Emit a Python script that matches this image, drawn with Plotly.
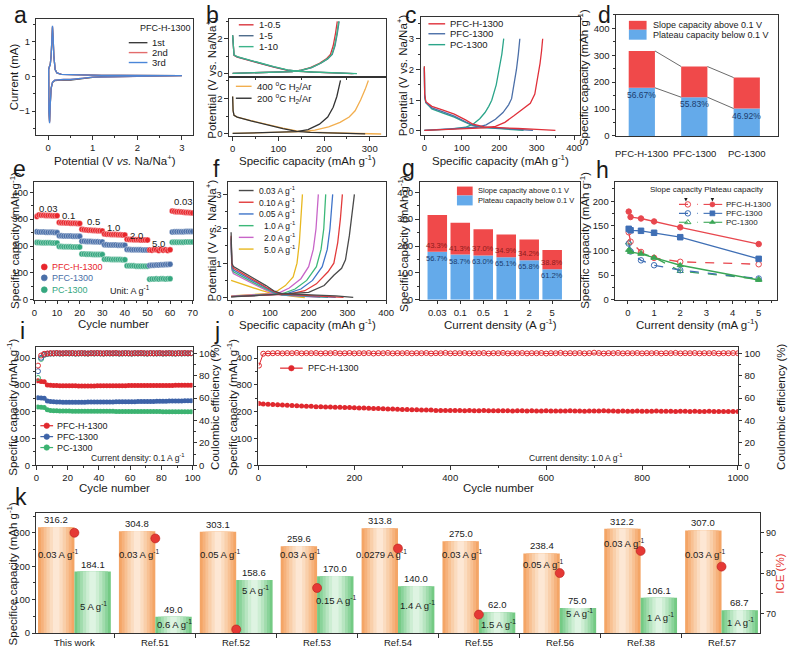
import plotly.graph_objects as go

W, H = 802, 653
FONT = "Liberation Sans, Arial, Helvetica, sans-serif"
INK = "#1a1a1a"
FRAME = "#333333"

# ======================= DATA =======================
# (a) CV of PFC-H-1300
cv_potential = [3.0, 2.5, 2.0, 1.5, 1.2, 1.0, 0.8, 0.65, 0.5, 0.35, 0.22, 0.15, 0.1, 0.07, 0.05, 0.035, 0.02, 0.01,
                0.015, 0.03, 0.05, 0.07, 0.085, 0.1, 0.115, 0.13, 0.16, 0.2, 0.3, 0.5, 0.8, 1.2, 1.6, 2.0, 2.5, 3.0]
cv_1st = [0.02, 0.015, 0.01, 0.0, -0.01, -0.03, -0.07, -0.1, -0.11, -0.1, -0.1, -0.12, -0.18, -0.35, -0.8, -1.3, -1.0, -0.2,
          0.2, 0.28, 0.35, 0.6, 1.0, 1.42, 1.1, 0.6, 0.2, 0.1, 0.06, 0.05, 0.04, 0.03, 0.03, 0.025, 0.02, 0.02]
cv_2nd = [0.02, 0.015, 0.01, 0.0, -0.01, -0.02, -0.05, -0.08, -0.09, -0.09, -0.09, -0.11, -0.17, -0.33, -0.78, -1.32, -1.02, -0.2,
          0.2, 0.27, 0.34, 0.58, 1.0, 1.44, 1.1, 0.6, 0.2, 0.1, 0.06, 0.05, 0.04, 0.03, 0.03, 0.025, 0.02, 0.02]
cv_3rd = [0.02, 0.015, 0.01, 0.0, -0.01, -0.02, -0.05, -0.08, -0.09, -0.09, -0.09, -0.11, -0.17, -0.34, -0.8, -1.35, -1.03, -0.2,
          0.2, 0.27, 0.34, 0.58, 1.0, 1.46, 1.12, 0.6, 0.2, 0.1, 0.06, 0.05, 0.04, 0.03, 0.03, 0.025, 0.02, 0.02]

# (b) GCD, top: mass ratios; bottom: H2/Ar temperatures
b_dis_cap_05 = [0, 1, 3, 10, 30, 60, 90, 120, 145, 175, 210, 240, 262]
b_dis_v_05 = [2.2, 1.4, 1.05, 0.95, 0.8, 0.58, 0.38, 0.2, 0.13, 0.09, 0.06, 0.04, 0.01]
b_ch_cap_05 = [0, 50, 100, 130, 150, 170, 190, 205, 214, 220, 225, 229]
b_ch_v_05 = [0.02, 0.05, 0.08, 0.12, 0.2, 0.35, 0.6, 0.85, 1.1, 1.6, 2.3, 3.0]
b_dis_cap_5 = [0, 1, 3, 10, 30, 60, 90, 120, 145, 175, 210, 240, 265]
b_dis_v_5 = [2.2, 1.4, 1.06, 0.96, 0.81, 0.59, 0.39, 0.21, 0.14, 0.09, 0.06, 0.04, 0.01]
b_ch_cap_5 = [0, 50, 100, 130, 152, 173, 193, 208, 218, 224, 229, 233]
b_ch_v_5 = [0.02, 0.05, 0.08, 0.12, 0.2, 0.35, 0.6, 0.85, 1.1, 1.6, 2.3, 3.0]
b_dis_cap_10 = [0, 1, 3, 10, 30, 60, 90, 120, 145, 175, 210, 245, 272]
b_dis_v_10 = [2.2, 1.4, 1.08, 0.98, 0.83, 0.6, 0.4, 0.22, 0.14, 0.1, 0.07, 0.05, 0.01]
b_ch_cap_10 = [0, 50, 100, 130, 151, 172, 192, 207, 217, 223, 228, 232]
b_ch_v_10 = [0.02, 0.05, 0.08, 0.12, 0.2, 0.35, 0.6, 0.85, 1.1, 1.6, 2.3, 3.0]
b_dis_cap_400 = [0, 1, 3, 10, 40, 80, 110, 140, 170, 210, 260, 300, 325]
b_dis_v_400 = [2.1, 1.3, 1.05, 0.95, 0.75, 0.5, 0.33, 0.17, 0.1, 0.07, 0.05, 0.03, 0.0]
b_ch_cap_400 = [0, 60, 120, 150, 180, 210, 235, 255, 268, 280, 290, 297]
b_ch_v_400 = [0.03, 0.06, 0.09, 0.13, 0.22, 0.4, 0.65, 0.95, 1.3, 1.9, 2.5, 3.0]
b_dis_cap_200 = [0, 1, 3, 10, 40, 80, 110, 140, 170, 210, 250, 290]
b_dis_v_200 = [2.1, 1.3, 1.05, 0.95, 0.73, 0.48, 0.3, 0.15, 0.09, 0.06, 0.04, 0.01]
b_ch_cap_200 = [0, 60, 110, 140, 165, 190, 208, 220, 228, 233, 236]
b_ch_v_200 = [0.03, 0.06, 0.09, 0.13, 0.25, 0.55, 0.95, 1.5, 2.1, 2.6, 3.0]

# (c) GCD of three samples
c_h_dis_cap = [0, 1, 4, 20, 50, 80, 110, 130, 160, 200, 250, 300, 350]
c_h_dis_v = [2.1, 1.2, 0.95, 0.8, 0.68, 0.55, 0.36, 0.22, 0.13, 0.1, 0.08, 0.05, 0.02]
c_h_ch_cap = [0, 100, 160, 190, 215, 240, 265, 283, 295, 303, 309, 313, 316]
c_h_ch_v = [0.02, 0.07, 0.1, 0.15, 0.28, 0.5, 0.72, 0.9, 1.2, 1.7, 2.2, 2.6, 3.0]
c_p_dis_cap = [0, 1, 4, 20, 50, 80, 110, 130, 160, 200, 250, 290]
c_p_dis_v = [2.05, 1.15, 0.93, 0.75, 0.62, 0.48, 0.3, 0.19, 0.12, 0.09, 0.06, 0.02]
c_p_ch_cap = [0, 90, 140, 165, 190, 210, 225, 233, 240, 246, 251, 255]
c_p_ch_v = [0.02, 0.07, 0.12, 0.2, 0.38, 0.6, 0.85, 1.05, 1.5, 2.0, 2.5, 3.0]
c_pc_dis_cap = [0, 1, 4, 20, 50, 80, 110, 130, 150, 190, 230, 265]
c_pc_dis_v = [2.1, 1.1, 0.92, 0.72, 0.58, 0.45, 0.28, 0.17, 0.12, 0.08, 0.05, 0.02]
c_pc_ch_cap = [0, 70, 110, 130, 148, 162, 172, 180, 192, 200, 207, 212]
c_pc_ch_v = [0.02, 0.06, 0.12, 0.22, 0.4, 0.6, 0.8, 1.0, 1.5, 2.0, 2.5, 3.0]

# (d) capacity contributions
d_samples = ["PFC-H-1300", "PFC-1300", "PC-1300"]
d_total = [316, 258, 217]
d_plateau = [179, 144, 102]
d_plateau_pct = ["56.67%", "55.83%", "46.92%"]

# (e) rate performance
e_rate_labels = ["0.03", "0.1", "0.5", "1.0", "2.0", "5.0", "0.03"]
e_red = [310, 316, 315, 315, 314, 314, 314, 313, 313, 313,
         288, 287, 287, 286, 286, 285, 285, 285, 284, 284,
         262, 261, 260, 259, 259, 258, 258, 257, 257, 256,
         245, 244, 244, 243, 243, 243, 242, 242, 241, 241,
         225, 224, 224, 223, 223, 223, 222, 222, 222, 222,
         185, 184, 187, 186, 183, 188, 184, 186, 183, 186,
         330, 329, 328, 328, 327, 326, 325, 325, 324, 323]
e_blue = [253, 252, 252, 252, 251, 251, 251, 251, 250, 250,
          238, 238, 237, 237, 237, 237, 236, 236, 236, 236,
          218, 218, 217, 217, 217, 216, 216, 216, 215, 215,
          205, 205, 204, 204, 204, 204, 203, 203, 203, 203,
          187, 187, 186, 186, 186, 186, 186, 185, 185, 185,
          127, 128, 128, 129, 129, 130, 130, 131, 131, 132,
          252, 253, 253, 253, 253, 253, 254, 254, 254, 254]
e_green = [213, 213, 212, 212, 212, 212, 212, 211, 211, 211,
           198, 198, 197, 197, 197, 197, 196, 196, 196, 196,
           170, 170, 169, 169, 169, 168, 168, 168, 168, 168,
           151, 151, 151, 150, 150, 150, 150, 150, 149, 149,
           126, 126, 126, 126, 125, 125, 125, 125, 125, 125,
           76, 77, 77, 78, 77, 78, 78, 77, 78, 78,
           214, 214, 214, 214, 214, 214, 215, 215, 215, 215]

# (f) GCD at different current densities
f_labels = ["0.03 A g<sup>-1</sup>", "0.10 A g<sup>-1</sup>", "0.05 A g<sup>-1</sup>",
            "1.0 A g<sup>-1</sup>", "2.0 A g<sup>-1</sup>", "5.0 A g<sup>-1</sup>"]
f_dis_cap = [[0, 2, 6, 30, 60, 90, 110, 130, 170, 220, 270, 315],
             [0, 2, 6, 30, 60, 90, 110, 130, 170, 220, 260, 290],
             [0, 2, 6, 30, 60, 90, 110, 130, 170, 220, 270],
             [0, 2, 6, 30, 60, 90, 110, 130, 170, 210, 250],
             [0, 2, 6, 30, 60, 90, 110, 130, 170, 230],
             [0, 20, 50, 80, 100, 130, 160, 190]]
f_dis_v = [[1.9, 1.0, 0.9, 0.75, 0.55, 0.35, 0.2, 0.12, 0.09, 0.07, 0.05, 0.01],
           [1.8, 0.95, 0.85, 0.7, 0.5, 0.3, 0.18, 0.1, 0.08, 0.06, 0.04, 0.01],
           [1.75, 0.9, 0.8, 0.65, 0.46, 0.28, 0.16, 0.09, 0.07, 0.05, 0.01],
           [1.7, 0.85, 0.75, 0.6, 0.42, 0.25, 0.14, 0.08, 0.06, 0.04, 0.01],
           [1.6, 0.8, 0.7, 0.55, 0.38, 0.22, 0.12, 0.07, 0.05, 0.01],
           [0.5, 0.42, 0.3, 0.2, 0.14, 0.08, 0.04, 0.0]]
f_ch_cap = [[0, 100, 150, 200, 240, 265, 285, 295, 305, 312, 318],
            [0, 100, 150, 190, 220, 250, 265, 275, 282, 287],
            [0, 100, 140, 180, 210, 235, 248, 255, 262],
            [0, 100, 130, 165, 195, 220, 232, 239, 244],
            [0, 100, 120, 150, 180, 200, 212, 219, 225],
            [0, 60, 100, 120, 140, 160, 170, 176, 180, 184]]
f_ch_v = [[0.02, 0.08, 0.1, 0.15, 0.35, 0.65, 0.85, 1.1, 1.8, 2.5, 3.0],
          [0.03, 0.08, 0.1, 0.2, 0.4, 0.75, 1.0, 1.6, 2.3, 3.0],
          [0.03, 0.08, 0.1, 0.25, 0.5, 0.9, 1.4, 2.0, 3.0],
          [0.03, 0.08, 0.1, 0.25, 0.5, 0.9, 1.4, 2.0, 3.0],
          [0.04, 0.09, 0.12, 0.28, 0.55, 0.9, 1.4, 2.0, 3.0],
          [0.05, 0.08, 0.12, 0.2, 0.35, 0.6, 1.0, 1.6, 2.2, 3.0]]

# (g) contributions vs current density
g_current = ["0.03", "0.1", "0.5", "1", "2", "5"]
g_total = [316, 287, 262, 243, 224, 185]
g_plateau = [179, 168, 165, 158, 147, 113]
g_slope_pct = ["43.3%", "41.3%", "37.0%", "34.9%", "34.2%", "38.8%"]
g_plateau_pct = ["56.7%", "58.7%", "63.0%", "65.1%", "65.8%", "61.2%"]

# (h) slope / plateau capacity vs current density
h_current = [0.03, 0.1, 0.5, 1, 2, 5]
h_pfch_plateau = [179, 168, 165, 159, 147, 113]
h_pfch_slope = [137, 118, 97, 85, 77, 72]
h_pfc_plateau = [144, 141, 140, 136, 127, 83]
h_pfc_slope = [114, 98, 80, 70, 60, 43]
h_pc_plateau = [101, 97, 93, 85, 70, 40]
h_pc_slope = [116, 100, 95, 86, 58, 42]

# (i) cycling at 0.1 A g-1 (every second cycle)
i_red_cap = [315, 313, 312, 300, 299, 298, 298, 297, 297, 297,
             297, 297, 297, 296, 296, 296, 296, 296, 296, 297,
             297, 297, 297, 297, 297, 297, 297, 297, 297, 298,
             298, 298, 298, 298, 298, 298, 298, 298, 298, 298,
             298, 298, 298, 298, 299, 299, 299, 299, 299, 299]
i_blue_cap = [252, 251, 250, 240, 238, 237, 236, 236, 235, 235,
              235, 235, 235, 235, 235, 235, 236, 236, 236, 236,
              236, 236, 236, 236, 236, 237, 237, 237, 237, 237,
              237, 237, 238, 238, 238, 238, 238, 238, 239, 239,
              239, 239, 240, 240, 240, 240, 240, 241, 241, 241]
i_green_cap = [218, 217, 216, 207, 205, 204, 204, 203, 203, 203,
               203, 202, 202, 202, 202, 202, 202, 202, 202, 202,
               202, 202, 202, 202, 202, 201, 201, 201, 201, 201,
               201, 201, 201, 201, 201, 201, 201, 201, 201, 201,
               200, 200, 200, 200, 200, 200, 200, 200, 200, 200]
i_red_ce = [89, 98, 99.5, 99.8, 100.1, 99.9, 100.2, 100.0, 99.9, 100.1,
            100.0, 100.2, 99.9, 100.0, 100.1, 100.0, 99.8, 100.1, 100.0, 100.2,
            100.0, 99.9, 100.1, 100.0, 100.0, 100.2, 99.9, 100.0, 100.1, 100.0,
            99.9, 100.1, 100.0, 100.2, 100.0, 99.9, 100.1, 100.0, 100.0, 100.2,
            99.9, 100.0, 100.1, 100.0, 99.9, 100.1, 100.0, 100.2, 100.0, 100.1]
i_blue_ce = [84, 96, 99.0, 99.6, 99.8, 99.9, 100.0, 99.8, 99.9, 100.0,
             99.9, 100.0, 99.8, 99.9, 100.0, 99.9, 99.8, 100.0, 99.9, 100.0,
             99.9, 99.8, 100.0, 99.9, 99.9, 100.0, 99.8, 99.9, 100.0, 99.9,
             99.8, 100.0, 99.9, 100.0, 99.9, 99.8, 100.0, 99.9, 99.9, 100.0,
             99.8, 99.9, 100.0, 99.9, 99.8, 100.0, 99.9, 100.0, 99.9, 100.0]
i_green_ce = [78, 95, 98.5, 99.4, 99.7, 99.8, 99.9, 99.7, 99.8, 99.9,
              99.8, 99.9, 99.7, 99.8, 99.9, 99.8, 99.7, 99.9, 99.8, 99.9,
              99.8, 99.7, 99.9, 99.8, 99.8, 99.9, 99.7, 99.8, 99.9, 99.8,
              99.7, 99.9, 99.8, 99.9, 99.8, 99.7, 99.9, 99.8, 99.8, 99.9,
              99.7, 99.8, 99.9, 99.8, 99.7, 99.9, 99.8, 99.9, 99.8, 99.9]

# (j) long cycling at 1.0 A g-1 (cycle 1, then every 10th cycle)
j_capacity = [231, 229, 228, 227, 226, 225, 224, 223, 222, 221,
              220, 220, 219, 219, 218, 218, 217, 217, 216, 216,
              215, 214, 214, 213, 212, 212, 211, 210, 210, 209,
              208, 208, 207, 207, 206, 206, 206, 205, 205, 205,
              205, 205, 205, 204, 205, 204, 204, 205, 204, 204,
              204, 204, 204, 203, 204, 204, 203, 204, 203, 203,
              204, 203, 203, 203, 203, 204, 203, 203, 202, 203,
              203, 203, 204, 203, 203, 202, 203, 202, 202, 203,
              202, 202, 202, 203, 202, 202, 202, 201, 202, 202,
              201, 202, 201, 201, 202, 201, 201, 201, 201, 201,
              201]
j_ce = [89, 99.6, 99.8, 100.0, 100.2, 99.9, 100.1, 100.0, 100.3, 99.9,
        100.1, 100.0, 100.2, 99.8, 100.1, 100.0, 100.3, 99.9, 100.0, 100.2,
        99.9, 100.1, 100.0, 100.2, 99.8, 100.1, 100.0, 100.3, 99.9, 100.1,
        100.0, 100.2, 99.9, 100.1, 100.0, 100.2, 99.8, 100.1, 100.0, 100.3,
        99.9, 100.1, 100.0, 100.2, 99.9, 100.1, 100.0, 100.2, 99.8, 100.1,
        100.0, 100.3, 99.9, 100.1, 100.0, 100.2, 99.9, 100.1, 100.0, 100.2,
        99.8, 100.1, 100.0, 100.3, 99.9, 100.1, 100.0, 100.2, 99.9, 100.1,
        100.5, 100.2, 99.8, 100.1, 100.0, 100.3, 99.9, 100.1, 100.0, 100.2,
        99.9, 100.1, 100.0, 100.2, 99.8, 100.1, 100.0, 100.3, 99.9, 100.1,
        100.0, 100.2, 99.9, 100.1, 100.0, 100.2, 99.8, 100.1, 100.0, 100.2,
        100.0]

# (k) comparison with literature
k_refs = ["This work", "Ref.51", "Ref.52", "Ref.53", "Ref.54", "Ref.55", "Ref.56", "Ref.38", "Ref.57"]
k_low_rate_cap = [316.2, 304.8, 303.1, 259.6, 313.8, 275.0, 238.4, 312.2, 307.0]
k_high_rate_cap = [184.1, 49.0, 158.6, 170.0, 140.0, 62.0, 75.0, 106.1, 68.7]
k_low_rate = ["0.03", "0.03", "0.05", "0.03", "0.0279", "0.03", "0.05", "0.03", "0.03"]
k_high_rate = ["5", "0.6", "5", "0.15", "1.4", "1.5", "5", "1", "1"]
k_ice = [90.0, 88.6, 66.0, 76.3, 86.1, 69.7, 80.0, 85.5, 81.6]
# label anchor heights (left-axis units) for the rate annotations
k_low_label_pos = [237, 237, 237, 237, 237, 237, 208, 270, 237]
k_high_label_pos = [80, 27, 130, 100, 85, 27, 60, 48, 33]

# ======================= FIGURE =======================
fig = go.Figure()
layout = dict(width=W, height=H, margin=dict(l=0, r=0, t=0, b=0),
              paper_bgcolor="white", plot_bgcolor="rgba(0,0,0,0)",
              showlegend=False, barmode="overlay",
              font=dict(family=FONT, size=10, color=INK))
annotations, shapes = [], []
TICK = 9.5
TS = 11.5
LEG = 9


def xd(l, r):
    return [l / W, r / W]


def yd(t, b):
    return [1 - b / H, 1 - t / H]


def axis(dom, rng, anchor, dtick=None, minor=None, labels=True, ticks="outside", tsize=TICK, **kw):
    d = dict(domain=dom, range=rng, anchor=anchor, showline=True, mirror=True, linecolor=FRAME,
             linewidth=1.1, ticks=ticks, ticklen=3.5, tickwidth=1, tickcolor=FRAME, showgrid=False,
             zeroline=False, showticklabels=labels, fixedrange=True,
             tickfont=dict(family=FONT, size=tsize, color=INK))
    if dtick is not None:
        d.update(dtick=dtick, tick0=0)
    if minor is not None:
        d["minor"] = dict(dtick=minor, tick0=0, ticks="outside", ticklen=2, tickwidth=1,
                          tickcolor=FRAME, showgrid=False)
    d.update(kw)
    return d


def ann(x, y, text, size=LEG, color=INK, xa="center", ya="middle", angle=0, xref="x16", yref="y16"):
    annotations.append(dict(x=x, y=y, xref=xref, yref=yref, text=text, showarrow=False,
                            font=dict(family=FONT, size=size, color=color),
                            xanchor=xa, yanchor=ya, textangle=angle))


def line(xs, ys, color, ax, width=1.3, dash="solid"):
    fig.add_trace(go.Scatter(x=xs, y=ys, mode="lines", xaxis=ax[0], yaxis=ax[1],
                             line=dict(color=color, width=width, dash=dash), hoverinfo="skip"))


def seg(x0, x1, y, color, dash="solid", width=1.4):
    fig.add_trace(go.Scatter(x=[x0, x1], y=[y, y], mode="lines", xaxis="x16", yaxis="y16",
                             line=dict(color=color, width=width, dash=dash), hoverinfo="skip"))


def dot(x, y, color, symbol="circle", size=6, lc=None, lw=0.6):
    fig.add_trace(go.Scatter(x=[x], y=[y], mode="markers", xaxis="x16", yaxis="y16",
                             marker=dict(color=color, symbol=symbol, size=size,
                                         line=dict(color=lc or color, width=lw)), hoverinfo="skip"))


SPEC = "Specific capacity (mAh g<sup>-1</sup>)"
POT = "Potential (V vs. Na/Na<sup>+</sup>)"
ROW1, ROW2, ROW3 = 161, 326, 492

# ---------- (a) ----------
layout["xaxis"] = axis(xd(34, 193), [-0.26, 3.24], "y", dtick=1, minor=0.5)
layout["yaxis"] = axis(yd(19, 136), [-1.69, 1.66], "x", dtick=1, minor=0.5)
A = ("x", "y")
line(cv_potential, cv_1st, "#3a3a3a", A)
line(cv_potential, cv_2nd, "#e36c6c", A)
line(cv_potential, cv_3rd, "#4a86d8", A)
ann(165, 28, "PFC-H-1300", size=9)
for yy, c, t in [(43, "#3a3a3a", "1st"), (53, "#e36c6c", "2nd"), (63, "#4a86d8", "3rd")]:
    seg(128, 147, yy, c)
    ann(150, yy, t, size=9.5, xa="left")
ann(114, ROW1, "Potential (V <i>vs.</i> Na/Na<sup>+</sup>)", size=TS)
ann(12, 77, "Current (mA)", size=TS, angle=-90)

# ---------- (b) ----------
layout["xaxis2"] = axis(xd(230, 390), [-8, 336], "y2", dtick=100, minor=50, labels=False, ticks="")
layout["yaxis2"] = axis(yd(19, 78), [-0.21, 3.14], "x2", dtick=2, minor=1)
layout["xaxis3"] = axis(xd(230, 390), [-8, 336], "y3", dtick=100, minor=50)
layout["yaxis3"] = axis(yd(78, 137), [-0.11, 3.17], "x3", dtick=2, minor=1)
B1, B2 = ("x2", "y2"), ("x3", "y3")
cR, cS, cG = "#d9363e", "#4f6d8c", "#3cb38a"
line(b_dis_cap_05, b_dis_v_05, cR, B1)
line(b_ch_cap_05, b_ch_v_05, cR, B1)
line(b_dis_cap_5, b_dis_v_5, cS, B1)
line(b_ch_cap_5, b_ch_v_5, cS, B1)
line(b_dis_cap_10, b_dis_v_10, cG, B1)
line(b_ch_cap_10, b_ch_v_10, cG, B1)
cO, cK = "#f2ae4e", "#333333"
line(b_dis_cap_400, b_dis_v_400, cO, B2)
line(b_ch_cap_400, b_ch_v_400, cO, B2)
line(b_dis_cap_200, b_dis_v_200, cK, B2)
line(b_ch_cap_200, b_ch_v_200, cK, B2)
for yy, c, t in [(25, cR, "1-0.5"), (36, cS, "1-5"), (47, cG, "1-10")]:
    seg(240, 255, yy, c)
    ann(258, yy, t, size=9.5, xa="left")
for yy, c, t in [(87, cO, "400 <sup>o</sup>C H<sub>2</sub>/Ar"), (99, cK, "200 <sup>o</sup>C H<sub>2</sub>/Ar")]:
    seg(237, 253, yy, c)
    ann(256, yy, t, size=9.5, xa="left")
ann(310, ROW1, SPEC, size=TS)
ann(212, 78, POT, size=TS, angle=-90)

# ---------- (c) ----------
layout["xaxis4"] = axis(xd(425, 587), [-10, 415], "y4", dtick=100, minor=50)
layout["yaxis4"] = axis(yd(17, 136), [-0.13, 3.71], "x4", dtick=1, minor=0.5)
C = ("x4", "y4")
cH, cP, cPC = "#e0303a", "#4b6fa8", "#2ba58a"
line(c_pc_dis_cap, c_pc_dis_v, cPC, C)
line(c_pc_ch_cap, c_pc_ch_v, cPC, C)
line(c_p_dis_cap, c_p_dis_v, cP, C)
line(c_p_ch_cap, c_p_ch_v, cP, C)
line(c_h_dis_cap, c_h_dis_v, cH, C)
line(c_h_ch_cap, c_h_ch_v, cH, C)
for yy, c, t in [(24, cH, "PFC-H-1300"), (34, cP, "PFC-1300"), (45, cPC, "PC-1300")]:
    seg(433, 450, yy, c)
    ann(453, yy, t, size=9.5, xa="left")
ann(506, ROW1, SPEC, size=TS)
ann(407, 76, POT, size=TS, angle=-90)

# ---------- (d) ----------
layout["xaxis5"] = axis(xd(624, 789), [-0.49, 2.6], "y5", labels=False, ticks="")
layout["yaxis5"] = axis(yd(15, 137), [0, 450], "x5", dtick=100, minor=50)
RED, BLUE = "#f0494a", "#64aaea"
d_idx = list(range(len(d_samples)))
fig.add_trace(go.Bar(x=d_idx, y=d_plateau, width=0.5, marker=dict(color=BLUE, line=dict(width=0)),
                     xaxis="x5", yaxis="y5", hoverinfo="skip"))
fig.add_trace(go.Bar(x=d_idx, y=[t - p for t, p in zip(d_total, d_plateau)], base=d_plateau, width=0.5,
                     marker=dict(color=RED, line=dict(width=0)), xaxis="x5", yaxis="y5", hoverinfo="skip"))
for k in range(len(d_samples) - 1):
    for arr in (d_total, d_plateau):
        line([d_idx[k] + 0.25, d_idx[k + 1] - 0.25], [arr[k], arr[k + 1]], "#6b6b6b", ("x5", "y5"), width=1)
for k, s in enumerate(d_samples):
    ann(d_idx[k], d_plateau[k], d_plateau_pct[k], size=8.5, color="#1d3d6e", ya="top",
        xref="x5", yref="y5")
    ann(d_idx[k], 155, s, size=9.5, xref="x5", yref="y16")
shapes.append(dict(type="rect", xref="x16", yref="y16", x0=637, x1=655, y0=21, y1=30,
                   fillcolor=RED, line=dict(width=0)))
shapes.append(dict(type="rect", xref="x16", yref="y16", x0=637, x1=655, y0=30, y1=40,
                   fillcolor=BLUE, line=dict(width=0)))
ann(659, 25.5, "Slope capacity above 0.1 V", size=9, xa="left")
ann(659, 35, "Plateau capacity below 0.1 V", size=9, xa="left")
ann(591, 78, SPEC, size=TS, angle=-90)

# ---------- (e) ----------
layout["xaxis6"] = axis(xd(32, 193), [0, 70], "y6", dtick=10, minor=5)
layout["yaxis6"] = axis(yd(183, 302), [0, 440], "x6", dtick=100, minor=50)
cycles_e = list(range(1, len(e_red) + 1))
eR, eB, eG = "#e8262c", "#4a6fa8", "#35a77f"
for ys, c in [(e_green, eG), (e_blue, eB), (e_red, eR)]:
    fig.add_trace(go.Scatter(x=cycles_e, y=ys, mode="markers", xaxis="x6", yaxis="y6", hoverinfo="skip",
                             marker=dict(color=c, size=6, line=dict(color="white", width=0.4))))
e_label_x = [6, 15, 26, 35, 45, 55, 66]
e_label_y = [340, 315, 290, 268, 238, 211, 366]
for t, lx, ly in zip(e_rate_labels, e_label_x, e_label_y):
    ann(lx, ly, t, size=9.5, xref="x6", yref="y6")
for yy, c, t in [(269, eR, "PFC-H-1300"), (280, eB, "PFC-1300"), (292, eG, "PC-1300")]:
    dot(42, yy, c, size=6)
    ann(48, yy, t, size=9, xa="left", color=c)
ann(107, 292, "Unit: A g<sup>-1</sup>", size=9, xa="left")
ann(112, ROW2, "Cycle number", size=TS)
ann(12, 242, SPEC, size=TS, angle=-90)

# ---------- (f) ----------
layout["xaxis7"] = axis(xd(229, 390), [-8, 400], "y7", dtick=100, minor=50)
layout["yaxis7"] = axis(yd(183, 302), [-0.06, 3.37], "x7", dtick=1, minor=0.5)
F = ("x7", "y7")
f_colors = ["#4a4a4a", "#e23b3b", "#3f74c9", "#3cb878", "#c865c8", "#e8b820"]
for k in range(len(f_labels) - 1, -1, -1):
    line(f_dis_cap[k], f_dis_v[k], f_colors[k], F)
    line(f_ch_cap[k], f_ch_v[k], f_colors[k], F)
for k, t in enumerate(f_labels):
    yy = 192 + 11.8 * k
    seg(240, 255, yy, f_colors[k])
    ann(300, yy, t, size=8.5, xa="right")
ann(310, ROW2, SPEC, size=TS)
ann(212, 242, POT, size=TS, angle=-90)

# ---------- (g) ----------
layout["xaxis8"] = axis(xd(424, 587), [-0.77, 6.2], "y8", tickmode="array",
                        tickvals=list(range(len(g_current))), ticktext=g_current)
layout["yaxis8"] = axis(yd(183, 302), [0, 440], "x8", dtick=100, minor=50)
g_idx = list(range(len(g_current)))
fig.add_trace(go.Bar(x=g_idx, y=g_plateau, width=0.85, marker=dict(color=BLUE, line=dict(width=0)),
                     xaxis="x8", yaxis="y8", hoverinfo="skip"))
fig.add_trace(go.Bar(x=g_idx, y=[t - p for t, p in zip(g_total, g_plateau)], base=g_plateau, width=0.85,
                     marker=dict(color=RED, line=dict(width=0)), xaxis="x8", yaxis="y8", hoverinfo="skip"))
for k in g_idx:
    ann(k, g_plateau[k], g_slope_pct[k], size=7.5, color="#8e1c1c", ya="bottom", xref="x8", yref="y8")
    ann(k, g_plateau[k], g_plateau_pct[k], size=7.5, color="#1d3d6e", ya="top", xref="x8", yref="y8")
shapes.append(dict(type="rect", xref="x16", yref="y16", x0=462, x1=478, y0=188, y1=197,
                   fillcolor=RED, line=dict(width=0)))
shapes.append(dict(type="rect", xref="x16", yref="y16", x0=462, x1=478, y0=197, y1=207,
                   fillcolor=BLUE, line=dict(width=0)))
ann(481, 192, "Slope capacity above 0.1 V", size=7.5, xa="left")
ann(481, 202, "Plateau capacity below 0.1 V", size=7.5, xa="left")
ann(506, ROW2, "Current density (A g<sup>-1</sup>)", size=TS)
ann(407, 245, SPEC, size=TS, angle=-90)

# ---------- (h) ----------
layout["xaxis9"] = axis(xd(623, 788), [-0.49, 5.71], "y9", dtick=1, minor=0.5)
layout["yaxis9"] = axis(yd(183, 302), [0, 240], "x9", dtick=50, minor=25)
hR, hB, hG = "#e8474e", "#3f6fb5", "#3aa655"
for ys, c, sym, dash in [(h_pc_slope, hG, "triangle-up-open", "dash"),
                         (h_pfc_slope, hB, "circle-open", "dash"),
                         (h_pfch_slope, hR, "circle-open", "dash"),
                         (h_pc_plateau, hG, "triangle-up", "solid"),
                         (h_pfc_plateau, hB, "square", "solid"),
                         (h_pfch_plateau, hR, "circle", "solid")]:
    fig.add_trace(go.Scatter(x=h_current, y=ys, mode="lines+markers", xaxis="x9", yaxis="y9",
                             hoverinfo="skip", line=dict(color=c, width=1.3, dash=dash),
                             marker=dict(symbol=sym, size=5.5, color=c, line=dict(color=c, width=1))))
ann(716, 191, "Slope capacity Plateau capacity", size=8)
annotations.append(dict(x=695, y=203, ax=695, ay=195, xref="x16", yref="y16", axref="x16", ayref="y16",
                        showarrow=True, arrowhead=2, arrowsize=0.7, arrowwidth=1, arrowcolor=INK, text=" "))
annotations.append(dict(x=722, y=203, ax=722, ay=195, xref="x16", yref="y16", axref="x16", ayref="y16",
                        showarrow=True, arrowhead=2, arrowsize=0.7, arrowwidth=1, arrowcolor=INK, text=" "))
for yy, c, so, sf, t in [(206, hR, "circle-open", "circle", "PFC-H-1300"),
                         (215, hB, "circle-open", "square", "PFC-1300"),
                         (224, hG, "triangle-up-open", "triangle-up", "PC-1300")]:
    seg(688, 707, yy, c, dash="dash", width=1.1)
    dot(697, yy, c, symbol=so, size=5.5, lw=1)
    seg(713, 732, yy, c, width=1.1)
    dot(722, yy, c, symbol=sf, size=5)
    ann(734, yy, t, size=8, xa="left")
ann(706, ROW2, "Current density (mA g<sup>-1</sup>)", size=TS)
ann(592, 242, SPEC, size=TS, angle=-90)

# ---------- (i) ----------
layout["xaxis10"] = axis(xd(34, 193), [0, 100], "y10", dtick=20, minor=10)
layout["yaxis10"] = axis(yd(350, 469), [0, 440], "x10", dtick=100, minor=50)
layout["yaxis11"] = axis(yd(350, 469), [0, 105.3], "x10", dtick=20, minor=10, overlaying="y10",
                         side="right", mirror=False)
cyc_i = list(range(1, 101, 2))
iR, iB, iG = "#e0282e", "#3d63a8", "#3cb371"
for ys, c in [(i_green_ce, iG), (i_blue_ce, iB), (i_red_ce, iR)]:
    fig.add_trace(go.Scatter(x=cyc_i, y=ys, mode="markers", xaxis="x10", yaxis="y11", hoverinfo="skip",
                             marker=dict(symbol="circle-open", size=5, color=c, line=dict(width=1))))
for ys, c in [(i_green_cap, iG), (i_blue_cap, iB), (i_red_cap, iR)]:
    fig.add_trace(go.Scatter(x=cyc_i, y=ys, mode="lines+markers", xaxis="x10", yaxis="y10", hoverinfo="skip",
                             line=dict(color=c, width=1.2), marker=dict(size=5, color=c)))
for yy, c, t in [(429, iR, "PFC-H-1300"), (440, iB, "PFC-1300"), (451, iG, "PC-1300")]:
    seg(38, 51, yy, c, width=1.2)
    dot(44.5, yy, c, size=5.5)
    ann(53, yy, t, size=9, xa="left")
ann(187, 461, "Current density: 0.1 A g<sup>-1</sup>", size=8.5, xa="right")
ann(113, ROW3, "Cycle number", size=TS)
ann(9, 410, SPEC, size=TS, angle=-90)
ann(216, 410, "Coulombic efficiency (%)", size=TS, angle=-90)

# ---------- (j) ----------
layout["xaxis12"] = axis(xd(260, 748), [0, 1000], "y12", dtick=200, minor=100)
layout["yaxis12"] = axis(yd(350, 469), [0, 440], "x12", dtick=100, minor=50)
layout["yaxis13"] = axis(yd(350, 469), [0, 105.3], "x12", dtick=20, minor=10, overlaying="y12",
                         side="right", mirror=False)
cyc_j = [1] + list(range(10, 1001, 10))
jR = "#e0282e"
fig.add_trace(go.Scatter(x=cyc_j, y=j_ce, mode="lines+markers", xaxis="x12", yaxis="y13", hoverinfo="skip",
                         line=dict(color=jR, width=1), marker=dict(symbol="circle-open", size=5, color=jR,
                                                                   line=dict(width=1))))
fig.add_trace(go.Scatter(x=cyc_j, y=j_capacity, mode="lines+markers", xaxis="x12", yaxis="y12",
                         hoverinfo="skip", line=dict(color=jR, width=1.2), marker=dict(size=5, color=jR)))
seg(282, 305, 371, jR, width=1.2)
dot(293.5, 371, jR, size=5.5)
ann(308, 371, "PFC-H-1300", size=9, xa="left")
ann(583, 461, "Current density: 1.0 A g<sup>-1</sup>", size=8.5)
ann(504, ROW3, "Cycle number", size=TS)
ann(233, 410, SPEC, size=TS, angle=-90)
ann(792, 410, "Coulombic efficiency (%)", size=TS, angle=-90)

# ---------- (k) ----------
k_idx = list(range(len(k_refs)))
layout["xaxis14"] = axis(xd(34, 770), [-0.47, 8.47], "y14", tickmode="array",
                         tickvals=[v + 0.5 for v in k_idx[:-1]], ticktext=[" "] * (len(k_idx) - 1))
layout["yaxis14"] = axis(yd(517, 638), [0, 359], "x14", dtick=100, minor=50)
layout["yaxis15"] = axis(yd(517, 638), [65.1, 94.9], "x14", dtick=10, minor=5, overlaying="y14",
                         side="right", mirror=False, tsize=9)
orange_layers = [("#f4a566", 0.45), ("#f6b27c", 0.38), ("#f8c193", 0.31), ("#f9cfaa", 0.24),
                 ("#fbdcc0", 0.16), ("#fde7d4", 0.08)]
green_layers = [("#74ca84", 0.45), ("#8ad39a", 0.38), ("#a1dcad", 0.31), ("#b8e5c1", 0.24),
                ("#cdeed3", 0.16), ("#def4e2", 0.08)]
for c, w in orange_layers:
    fig.add_trace(go.Bar(x=k_idx, y=k_low_rate_cap, width=w, offset=-0.225 - w / 2,
                         marker=dict(color=c, line=dict(width=0)), xaxis="x14", yaxis="y14", hoverinfo="skip"))
for c, w in green_layers:
    fig.add_trace(go.Bar(x=k_idx, y=k_high_rate_cap, width=w, offset=0.225 - w / 2,
                         marker=dict(color=c, line=dict(width=0)), xaxis="x14", yaxis="y14", hoverinfo="skip"))
fig.add_trace(go.Scatter(x=k_idx, y=k_ice, mode="markers", xaxis="x14", yaxis="y15", hoverinfo="skip",
                         marker=dict(size=9, color="#e53935", line=dict(color="#b71c1c", width=0.6))))
for k in k_idx:
    ann(k - 0.225, k_low_rate_cap[k], "%.1f" % k_low_rate_cap[k], size=9.5, ya="bottom", xref="x14", yref="y14")
    ann(k + 0.225, k_high_rate_cap[k], "%.1f" % k_high_rate_cap[k], size=9.5, ya="bottom", xref="x14", yref="y14")
    ann(k - 0.2, k_low_label_pos[k], k_low_rate[k] + " A g<sup>-1</sup>", size=9.5, xref="x14", yref="y14")
    ann(k + 0.24, k_high_label_pos[k], k_high_rate[k] + " A g<sup>-1</sup>", size=9.5, xref="x14", yref="y14")
    ann(k, 647, k_refs[k], size=9.5, xref="x14", yref="y16")
ann(9, 578, "Specifice capacity (mAh g<sup>-1</sup>)", size=TS, angle=-90)
ann(790, 578, "ICE (%)", size=TS, angle=-90, color="#e53935")

# ---------- pixel overlay axis & panel letters ----------
layout["xaxis16"] = dict(domain=[0, 1], range=[0, W], visible=False, fixedrange=True, anchor="y16")
layout["yaxis16"] = dict(domain=[0, 1], range=[H, 0], visible=False, fixedrange=True, anchor="x16")
for letter, x, y in [("a", 18, 0), ("b", 213, 0), ("c", 415, 0), ("d", 612, 0),
                     ("e", 17, 155), ("f", 217, 155), ("g", 413, 154), ("h", 610, 156),
                     ("i", 20, 318), ("j", 218, 318), ("k", 18, 486)]:
    ann(x, y, letter, size=23, ya="top")

layout["annotations"] = annotations
layout["shapes"] = shapes
fig.update_layout(**layout)
fig.write_html("out.html")
